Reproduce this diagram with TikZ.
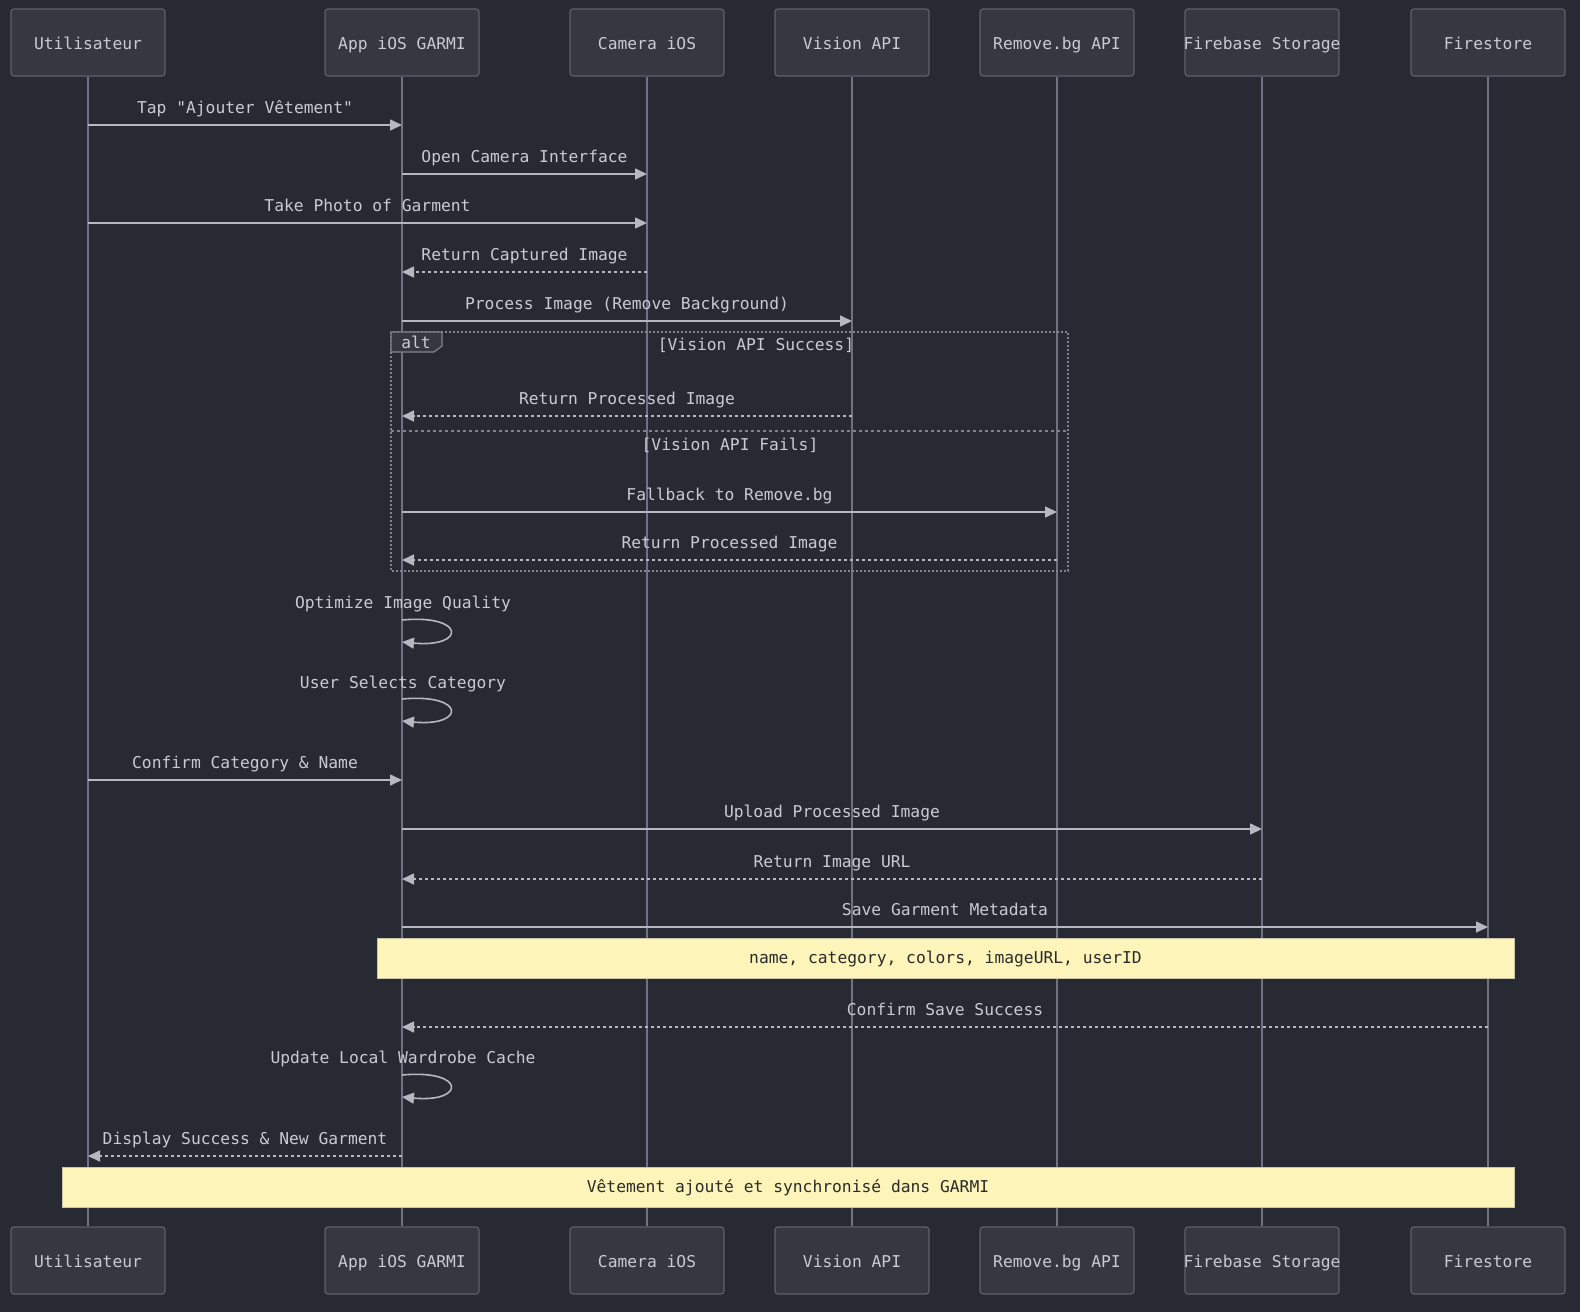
\documentclass[tikz,border=0pt]{standalone}
\usepackage{fontspec}
\setmonofont{DejaVu Sans Mono}
\usetikzlibrary{arrows.meta}
\definecolor{bg}{HTML}{282A33}
\definecolor{actfill}{HTML}{353841}
\definecolor{actdraw}{HTML}{5C606E}
\definecolor{life}{HTML}{6E7383}
\definecolor{txt}{HTML}{C9CBD2}
\definecolor{msgc}{HTML}{B5B8C2}
\definecolor{framec}{HTML}{80848F}
\definecolor{notefill}{HTML}{FDF4B9}
\definecolor{notedraw}{HTML}{C9C7A8}
\definecolor{notetxt}{HTML}{2B2B2B}
\begin{document}
\begin{tikzpicture}[x=1pt,y=-1pt,
 font=\ttfamily\fontsize{16.3}{19}\selectfont,
 actor/.style={draw=actdraw, fill=actfill, rounded corners=3pt, minimum width=154pt, minimum height=67pt, text=txt, line width=1.2pt, inner sep=0pt, text height=16pt, text depth=3pt},
 lifeln/.style={draw=life, line width=1.8pt},
 msg/.style={draw=msgc, line width=1.6pt, -{Triangle[length=12pt,width=11pt]}},
 rmsg/.style={msg, dash pattern=on 3pt off 3pt},
 lbl/.style={text=txt, inner sep=0pt, anchor=base},
 note/.style={draw=notedraw, fill=notefill, text=notetxt, line width=1pt, inner sep=0pt, text height=11pt, text depth=1pt}]
\fill[bg] (0,0) rectangle (1580,1312);
\useasboundingbox (0,0) rectangle (1580,1312);
% actors top
\node[actor] (uT) at (88,42.5) {\makebox[0pt]{Utilisateur}};
\node[actor] (aT) at (402,42.5) {\makebox[0pt]{App iOS GARMI}};
\node[actor] (cT) at (647,42.5) {\makebox[0pt]{Camera iOS}};
\node[actor] (vT) at (852,42.5) {\makebox[0pt]{Vision API}};
\node[actor] (rT) at (1057,42.5) {\makebox[0pt]{Remove.bg API}};
\node[actor] (fT) at (1262,42.5) {\makebox[0pt]{Firebase Storage}};
\node[actor] (sT) at (1488,42.5) {\makebox[0pt]{Firestore}};
% actors bottom
\node[actor] (uB) at (88,1260.5) {\makebox[0pt]{Utilisateur}};
\node[actor] (aB) at (402,1260.5) {\makebox[0pt]{App iOS GARMI}};
\node[actor] (cB) at (647,1260.5) {\makebox[0pt]{Camera iOS}};
\node[actor] (vB) at (852,1260.5) {\makebox[0pt]{Vision API}};
\node[actor] (rB) at (1057,1260.5) {\makebox[0pt]{Remove.bg API}};
\node[actor] (fB) at (1262,1260.5) {\makebox[0pt]{Firebase Storage}};
\node[actor] (sB) at (1488,1260.5) {\makebox[0pt]{Firestore}};
% lifelines
\foreach \a in {u,a,c,v,r,f,s} {\draw[lifeln] (\a T.south) -- (\a B.north);}
% alt frame
\draw[framec, line width=1.2pt, dash pattern=on 2pt off 2pt] (391,332) rectangle (1068,571);
\draw[framec, line width=1.2pt, dash pattern=on 3pt off 3pt] (391,431) -- (1068,431);
\draw[framec, fill=actfill, line width=1.2pt] (391,332) -- (442,332) -- (442,346) -- (434,352) -- (391,352) -- cycle;
\node[lbl] (altl) at (416,348) {alt};
\node[lbl] (c1) at (756,350) {[Vision API Success]};
\node[lbl] (c2) at (730,450) {[Vision API Fails]};
% messages
\draw[msg] (uT |- 0,125) -- (aT |- 0,125);
\node[lbl] (l1) at (245,113) {Tap "Ajouter Vêtement"};
\draw[msg] (aT |- 0,174) -- (cT |- 0,174);
\node[lbl] (l2) at (524.5,162) {Open Camera Interface};
\draw[msg] (uT |- 0,223) -- (cT |- 0,223);
\node[lbl] (l3) at (367.5,211) {Take Photo of Garment};
\draw[rmsg] (cT |- 0,272) -- (aT |- 0,272);
\node[lbl] (l4) at (524.5,260) {Return Captured Image};
\draw[msg] (aT |- 0,321) -- (vT |- 0,321);
\node[lbl] (l5) at (627,309) {Process Image (Remove Background)};
\draw[rmsg] (vT |- 0,416) -- (aT |- 0,416);
\node[lbl] (l6) at (627,404) {Return Processed Image};
\draw[msg] (aT |- 0,512) -- (rT |- 0,512);
\node[lbl] (l7) at (729.5,500) {Fallback to Remove.bg};
\draw[rmsg] (rT |- 0,560) -- (aT |- 0,560);
\node[lbl] (l8) at (729.5,548) {Return Processed Image};
% self messages
\draw[msg] (aT |- 0,620) .. controls (466,614) and (466,648) .. (aT |- 0,642);
\node[lbl] (l9) at (403,608) {Optimize Image Quality};
\draw[msg] (aT |- 0,699) .. controls (466,693) and (466,727) .. (aT |- 0,721);
\node[lbl] (l10) at (403,688) {User Selects Category};
\draw[msg] (uT |- 0,780) -- (aT |- 0,780);
\node[lbl] (l11) at (245,768) {Confirm Category \& Name};
\draw[msg] (aT |- 0,829) -- (fT |- 0,829);
\node[lbl] (l12) at (832,817) {Upload Processed Image};
\draw[rmsg] (fT |- 0,879) -- (aT |- 0,879);
\node[lbl] (l13) at (832,867) {Return Image URL};
\draw[msg] (aT |- 0,927) -- (sT |- 0,927);
\node[lbl] (l14) at (945,915) {Save Garment Metadata};
\node[note, minimum width=1137pt, minimum height=40pt] (n1) at (945.5,958) {name, category, colors, imageURL, userID};
\draw[rmsg] (sT |- 0,1027) -- (aT |- 0,1027);
\node[lbl] (l15) at (945,1015) {Confirm Save Success};
\draw[msg] (aT |- 0,1075) .. controls (466,1069) and (466,1103) .. (aT |- 0,1097);
\node[lbl] (l16) at (403,1063) {Update Local Wardrobe Cache};
\draw[rmsg] (aT |- 0,1156) -- (uT |- 0,1156);
\node[lbl] (l17) at (245,1144) {Display Success \& New Garment};
\node[note, minimum width=1452pt, minimum height=40pt] (n2) at (788,1187) {Vêtement ajouté et synchronisé dans GARMI};
\end{tikzpicture}
\end{document}
